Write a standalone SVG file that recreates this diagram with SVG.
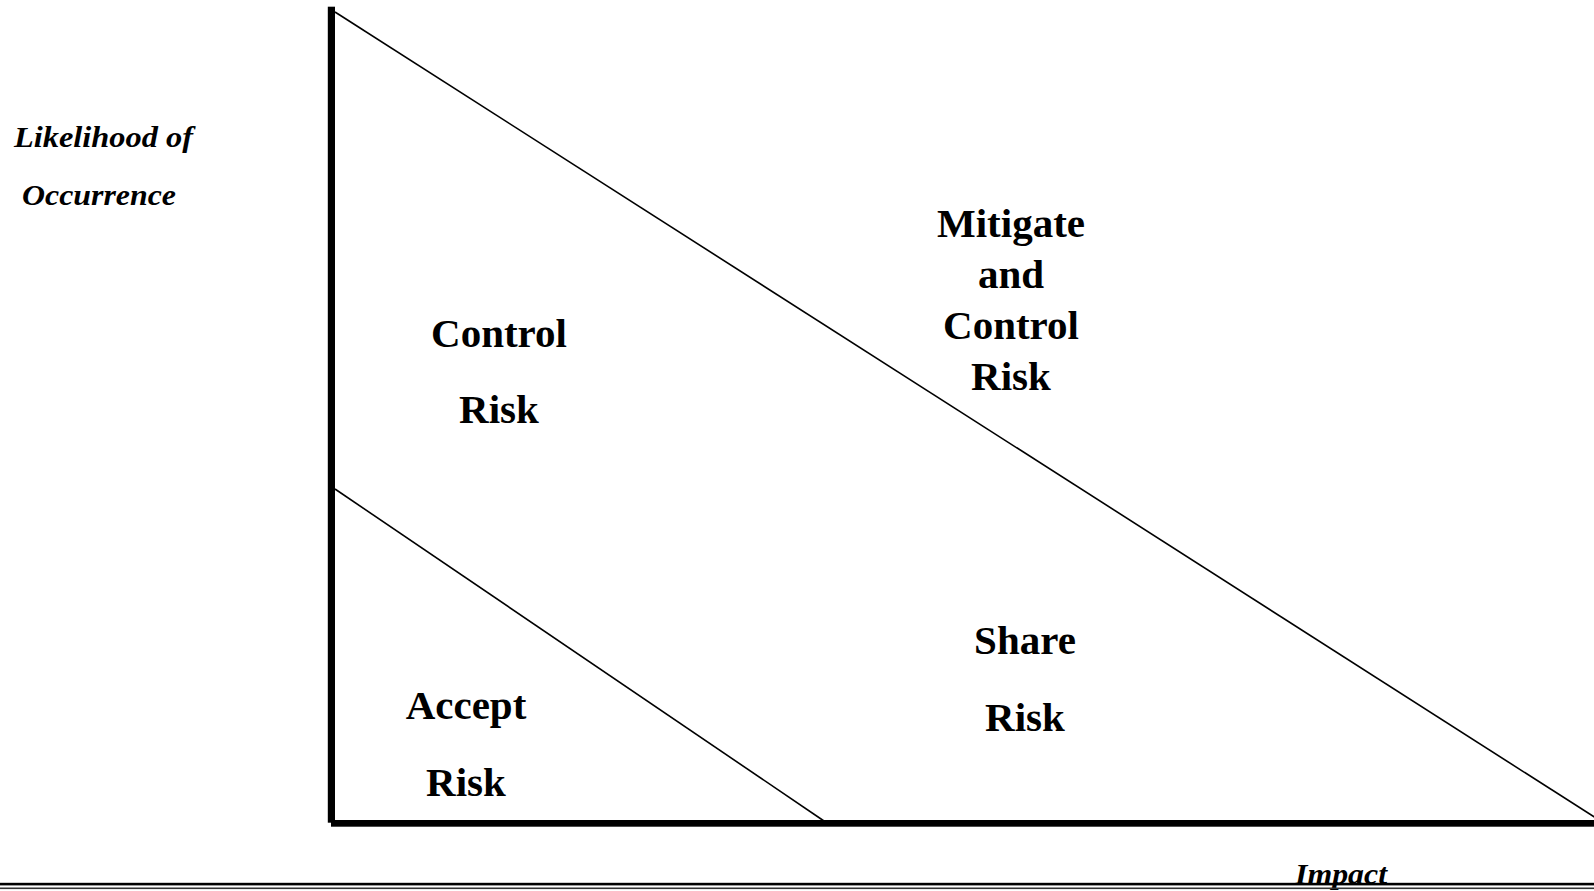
<svg xmlns="http://www.w3.org/2000/svg" width="1594" height="891" viewBox="0 0 1594 891">
<style>
.lbl{font-family:"Liberation Serif","Times New Roman",serif;font-weight:bold;font-size:41px;fill:#000;text-anchor:middle}
.ax{font-family:"Liberation Serif","Times New Roman",serif;font-weight:bold;font-style:italic;font-size:29px;fill:#000}
.ln{stroke:#000;stroke-width:1.6;fill:none}
</style>
<rect width="1594" height="891" fill="#fff"/>
<g id="connectors">
<line class="ln" x1="335" y1="12" x2="1599" y2="820"/>
<line class="ln" x1="335" y1="489" x2="824" y2="821"/>
</g>
<g id="axes">
<rect x="327.8" y="6.7" width="7.2" height="816" fill="#000"/>
<rect x="331" y="820" width="1263" height="6.7" fill="#000"/>
</g>
<g id="y-label">
<text class="ax" x="14" y="147" textLength="179" lengthAdjust="spacingAndGlyphs">Likelihood of</text>
<text class="ax" x="22" y="205" textLength="154" lengthAdjust="spacingAndGlyphs">Occurrence</text>
</g>
<g id="x-label">
<text class="ax" x="1295" y="884" font-size="29" textLength="92" lengthAdjust="spacingAndGlyphs">Impact</text>
</g>
<g id="rules">
<rect x="0" y="882.8" width="1594" height="2.6" fill="#000"/>
<rect x="0" y="887.5" width="1594" height="1.6" fill="#333"/>
</g>
<g id="mitigate">
<text class="lbl" x="1011" y="237">Mitigate</text>
<text class="lbl" x="1011" y="288">and</text>
<text class="lbl" x="1011" y="339">Control</text>
<text class="lbl" x="1011" y="390">Risk</text>
</g>
<g id="control">
<text class="lbl" x="499" y="347">Control</text>
<text class="lbl" x="499" y="423">Risk</text>
</g>
<g id="accept">
<text class="lbl" x="466" y="719">Accept</text>
<text class="lbl" x="466" y="796">Risk</text>
</g>
<g id="share">
<text class="lbl" x="1025" y="654">Share</text>
<text class="lbl" x="1025" y="731">Risk</text>
</g>
</svg>
